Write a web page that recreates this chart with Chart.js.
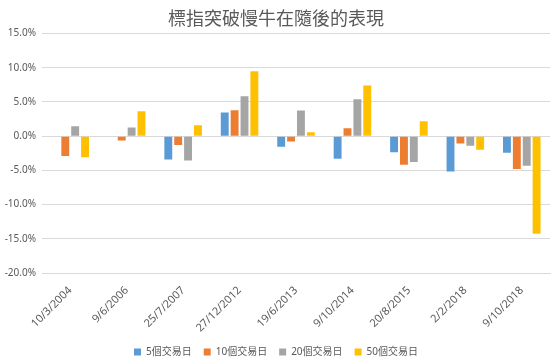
<!DOCTYPE html>
<html>
<head>
<meta charset="utf-8">
<script src="https://cdn.jsdelivr.net/npm/chart.js@4"></script>
<style>
  html, body { margin: 0; padding: 0; background: #fff; }
  #wrap { width: 554px; height: 359px; }
</style>
</head>
<body>
<div id="wrap"><canvas id="chart" width="554" height="359"></canvas></div>
<script>
// --- DATA ---
const dates = ['10/3/2004', '9/6/2006', '25/7/2007', '27/12/2012', '19/6/2013', '9/10/2014', '20/8/2015', '2/2/2018', '9/10/2018'];
const seriesNames = ['5個交易日', '10個交易日', '20個交易日', '50個交易日'];
const day5 = [null, null, -3.4, 3.45, -1.55, -3.3, -2.33, -5.15, -2.43];
const day10 = [-2.9, -0.63, -1.3, 3.8, -0.78, 1.17, -4.17, -1.07, -4.8];
const day20 = [1.46, 1.26, -3.54, 5.83, 3.74, 5.39, -3.79, -1.41, -4.32];
const day50 = [-3.06, 3.64, 1.6, 9.5, 0.58, 7.43, 2.18, -1.99, -14.27];
const yTicks = [15, 10, 5, 0, -5, -10, -15, -20];

const colors = ['#5b9bd5', '#ed7d31', '#a5a5a5', '#ffc000'];
const txt = '#595959';
const font = '"Noto Sans", "Noto Sans CJK TC", sans-serif';

const datasets = [day5, day10, day20, day50].map((vals, i) => ({
    label: seriesNames[i], data: vals, backgroundColor: colors[i],
    categoryPercentage: 0.7, barPercentage: 0.8
}));

new Chart(document.getElementById('chart'), {
    type: 'bar',
    data: { labels: dates, datasets },
    options: {
        responsive: false, animation: false,
        layout: { padding: { left: 2, right: 4, top: 7, bottom: -8 } },
        plugins: {
            title: {
                display: true, text: '標指突破慢牛在隨後的表現', color: txt,
                font: { family: '"Noto Sans CJK TC", serif', size: 18, weight: 'normal' },
                padding: { top: 0, bottom: 5 }
            },
            legend: {
                position: 'bottom',
                labels: { color: txt, boxWidth: 7, boxHeight: 7, padding: 12, font: { family: font, size: 10 } }
            },
            tooltip: { enabled: false }
        },
        scales: {
            x: {
                grid: { display: false },
                border: { color: '#d9d9d9' },
                ticks: { color: txt, minRotation: 45, maxRotation: 45, font: { family: font, size: 11 } },
                afterFit: (s) => { s.height = 62; }
            },
            y: {
                min: -20, max: 15,
                afterBuildTicks: (s) => { s.ticks = yTicks.map(v => ({ value: v })); },
                grid: { color: '#d9d9d9', drawTicks: false },
                border: { display: false },
                ticks: { color: txt, padding: 6, font: { family: font, size: 10 }, callback: (v) => v.toFixed(1) + '%' },
                afterFit: (s) => { s.width = 40; }
            }
        }
    }
});
</script>
</body>
</html>
